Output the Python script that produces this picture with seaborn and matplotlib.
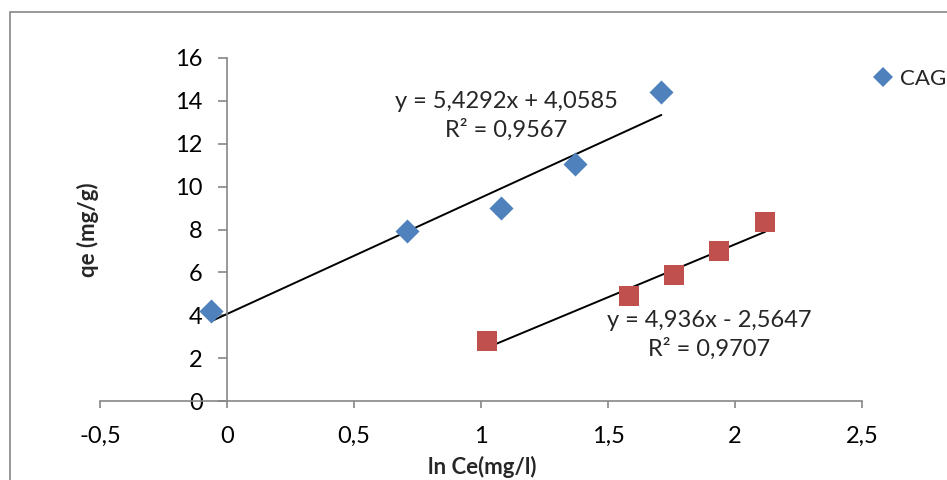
import matplotlib
matplotlib.use("Agg")
import matplotlib.pyplot as plt
import seaborn as sns
import numpy as np
import pandas as pd
from matplotlib.lines import Line2D
from matplotlib.patches import Rectangle

# ---- data ----
cag_x = [-0.063, 0.708, 1.077, 1.372, 1.710]
cag_y = [4.20, 7.93, 9.00, 11.05, 14.41]
cap_x = [1.022, 1.584, 1.761, 1.938, 2.119]
cap_y = [2.80, 4.90, 5.88, 7.00, 8.35]
cag_fit = [5.4292, 4.0585]
cap_fit = [4.936, -2.5647]
cag_eq = "y = 5,4292x + 4,0585\nR² = 0,9567"
cap_eq = "y = 4,936x - 2,5647\nR² = 0,9707"
x_ticks = [-0.5, 0, 0.5, 1, 1.5, 2, 2.5]
x_ticklabels = ["-0,5", "0", "0,5", "1", "1,5", "2", "2,5"]
y_ticks = [0, 2, 4, 6, 8, 10, 12, 14, 16]

BLUE = "#4F81BD"
RED = "#C0504D"
GRAY = "#868686"

sns.set_theme(style="white")
plt.rcParams["font.family"] = ["Lato", "DejaVu Sans"]

W, H = 947, 480
fig = plt.figure(figsize=(W / 100, H / 100), dpi=100)
ax = fig.add_axes([100 / W, 1 - 401 / H, (862 - 100) / W, (401 - 58) / H])

df = pd.DataFrame({
    "x": cag_x + cap_x,
    "y": cag_y + cap_y,
    "series": ["CAG"] * len(cag_x) + ["CAP"] * len(cap_x),
})

sns.scatterplot(data=df[df.series == "CAG"], x="x", y="y", ax=ax, marker="D",
                s=150, color=BLUE, edgecolor=BLUE, linewidth=0, zorder=3, legend=False)
sns.scatterplot(data=df[df.series == "CAP"], x="x", y="y", ax=ax, marker="s",
                s=210, color=RED, edgecolor=RED, linewidth=0, zorder=3, legend=False)

for xs, fit in ((cag_x, cag_fit), (cap_x, cap_fit)):
    xx = np.array([min(xs), max(xs)])
    ax.plot(xx, np.polyval(fit, xx), color="black", lw=1.4, zorder=2)

ax.set_xlim(-0.5, 2.5)
ax.set_ylim(0, 16)
ax.set_xticks(x_ticks)
ax.set_xticklabels(x_ticklabels)
ax.set_yticks(y_ticks)

for s in ("top", "right"):
    ax.spines[s].set_visible(False)
ax.spines["left"].set_position(("data", 0))
ax.spines["bottom"].set_position(("data", 0))
for s in ("left", "bottom"):
    ax.spines[s].set_color(GRAY)
    ax.spines[s].set_linewidth(1.2)

ax.tick_params(axis="y", which="both", left=True, direction="out", length=6.5,
               width=1.2, color=GRAY, pad=11, labelsize=17, labelcolor="black")
ax.tick_params(axis="x", which="both", bottom=True, direction="out", length=5,
               width=1.2, color=GRAY, pad=13, labelsize=17, labelcolor="black")
ax.patch.set_alpha(0)

ax.set_xlabel("")
ax.set_ylabel("")
fig.text(482 / W, 1 - 467 / H, "ln Ce(mg/l)", ha="center", va="center",
         fontsize=16, fontweight="bold")
fig.text(88 / W, 1 - 230 / H, "qe (mg/g)", ha="center", va="center",
         rotation=90, fontsize=16, fontweight="bold")

ax.text(506 / W, 1 - 116 / H, cag_eq, transform=fig.transFigure, ha="center",
        va="center", fontsize=17, linespacing=1.35)
ax.text(709 / W, 1 - 335 / H, cap_eq, transform=fig.transFigure, ha="center",
        va="center", fontsize=17, linespacing=1.35)

# chart border
fig.patches.append(Rectangle((10 / W, -0.2), 1.5, 1 - 12 / H + 0.2,
                             transform=fig.transFigure, fill=False,
                             edgecolor=GRAY, lw=1.2, zorder=0))

handle = Line2D([], [], marker="D", color=BLUE, linestyle="none", markersize=10,
                markeredgewidth=0)
fig.legend(handles=[handle], labels=["CAG"], loc="center left",
           bbox_to_anchor=(872 / W, 1 - 79 / H), frameon=False, fontsize=16,
           handlelength=1.0, handletextpad=0.25, borderpad=0, borderaxespad=0)

fig.savefig("out.png", dpi=100)
